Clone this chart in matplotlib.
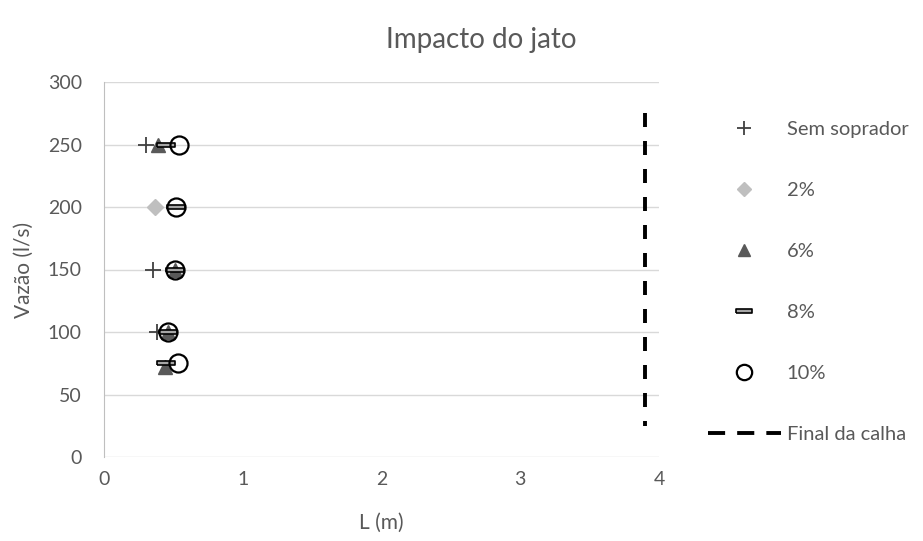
import numpy as np
import matplotlib
matplotlib.use('Agg')
import matplotlib.pyplot as plt
from matplotlib.lines import Line2D

plt.rcParams['font.family'] = ['Lato', 'DejaVu Sans']

# data (L in m, flow in l/s)
sem_L = [0.30, 0.35, 0.38]
sem_Q = [250, 150, 100]
p2_L = [0.37]
p2_Q = [200]
p6_L = [0.39, 0.51, 0.46, 0.44]
p6_Q = [250, 150, 100, 72]
p8_L = [0.45, 0.52, 0.51, 0.46, 0.45]
p8_Q = [250, 200, 150, 100, 75]
p10_L = [0.54, 0.52, 0.51, 0.46, 0.53]
p10_Q = [250, 200, 150, 100, 75]
calha_L = [3.9, 3.9]
calha_Q = [275, 25]

grey = '#595959'
fig = plt.figure(figsize=(9.23, 5.41), dpi=100)
ax = fig.add_axes([104/923, 1 - 457/541, (659-104)/923, (457-82)/541])

dash_marker = [(-1, -0.22), (1, -0.22), (1, 0.22), (-1, 0.22), (-1, -0.22)]

h1, = ax.plot(sem_L, sem_Q, ls='none', marker='+', ms=12, mew=1.3, color='#404040', label='Sem soprador')
h2, = ax.plot(p2_L, p2_Q, ls='none', marker='D', ms=8, color='#bfbfbf', label='2%')
h3, = ax.plot(p6_L, p6_Q, ls='none', marker='^', ms=10, color='#595959', label='6%')
h4, = ax.plot(p8_L, p8_Q, ls='none', marker=dash_marker, ms=13, mfc='#a6a6a6', mec='black', mew=1.2, label='8%')
h5, = ax.plot(p10_L, p10_Q, ls='none', marker='o', ms=13, mfc='none', mec='black', mew=1.6, label='10%')
ax.plot(calha_L, calha_Q, color='black', lw=2.8, ls=(0, (3.6, 3.6)), solid_capstyle='butt')
# legend proxy with a shorter dash, as in the reference
h6 = Line2D([], [], color='black', lw=2.8, ls=(0, (4.4, 3.1)), dash_capstyle='butt')

ax.set_xlim(0, 4)
ax.set_ylim(0, 300)
ax.set_xticks([0, 1, 2, 3, 4])
ax.set_yticks(np.arange(0, 301, 50))
ax.grid(axis='y', color='#d9d9d9', lw=1)
ax.set_axisbelow(True)
for s in ['top', 'right', 'bottom']:
    ax.spines[s].set_visible(False)
ax.spines['left'].set_color('#bfbfbf')
ax.tick_params(length=0, labelsize=14, colors=grey)
ax.tick_params(axis='x', pad=10)
ax.tick_params(axis='y', pad=16)

ax.set_xlabel('L (m)', fontsize=15, color=grey, labelpad=18)
ax.set_ylabel('Vazão (l/s)', fontsize=15, color=grey, labelpad=10)
fig.text(0.521, 0.926, 'Impacto do jato', ha='center', va='center', fontsize=20, color=grey)

leg = fig.legend([h1, h2, h3, h4, h5, h6],
                 ['Sem soprador', '2%', '6%', '8%', '10%', 'Final da calha'],
                 loc='upper left', bbox_to_anchor=(708/923, 1 - 121/541), frameon=False,
                 fontsize=14.5, labelcolor=grey, handlelength=3.6, handletextpad=0.3,
                 labelspacing=2.18, borderaxespad=0, borderpad=0, markerscale=0.85)

fig.savefig('out.png', dpi=100)
